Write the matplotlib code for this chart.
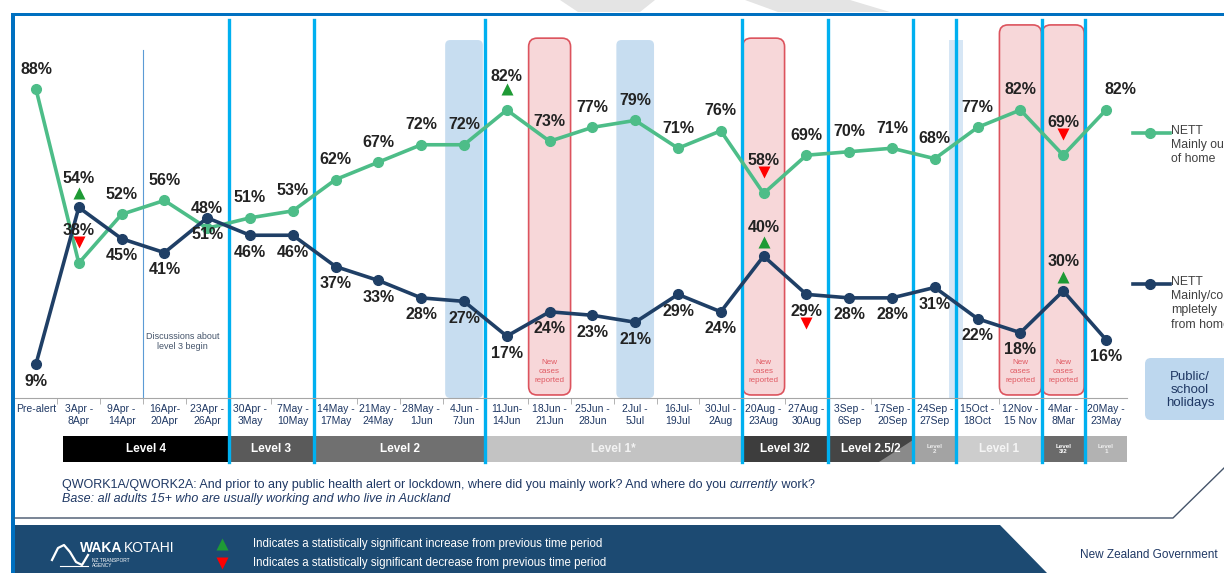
import matplotlib
matplotlib.use("Agg")
import matplotlib.pyplot as plt
import matplotlib.transforms as mtransforms
from matplotlib.lines import Line2D
from matplotlib.patches import FancyBboxPatch, Polygon, Rectangle

plt.rcParams['font.family'] = ['Liberation Sans', 'DejaVu Sans']

# survey waves
periods = ["Pre-alert", "3Apr -\n8Apr", "9Apr -\n14Apr", "16Apr-\n20Apr", "23Apr -\n26Apr",
           "30Apr -\n3May", "7May -\n10May", "14May -\n17May", "21May -\n24May", "28May -\n1Jun",
           "4Jun -\n7Jun", "11Jun-\n14Jun", "18Jun -\n21Jun", "25Jun -\n28Jun", "2Jul -\n5Jul",
           "16Jul-\n19Jul", "30Jul -\n2Aug", "20Aug -\n23Aug", "27Aug -\n30Aug", "3Sep -\n6Sep",
           "17Sep -\n20Sep", "24Sep -\n27Sep", "15Oct -\n18Oct", "12Nov -\n15 Nov", "4Mar -\n8Mar",
           "20May -\n23May"]
out_of_home = [88, 38, 52, 56, 48, 51, 53, 62, 67, 72, 72, 82, 73, 77, 79, 71, 76, 58, 69, 70,
               71, 68, 77, 82, 69, 82]
from_home = [9, 54, 45, 41, 51, 46, 46, 37, 33, 28, 27, 17, 24, 23, 21, 29, 24, 40, 29, 28,
             28, 31, 22, 18, 30, 16]
# 1 = significant increase, -1 = significant decrease
out_of_home_sig = [0, -1, 0, 0, 0, 0, 0, 0, 0, 0, 0, 1, 0, 0, 0, 0, 0, -1, 0, 0, 0, 0, 0, 0, -1, 0]
from_home_sig = [0, 1, 0, 0, 0, 0, 0, 0, 0, 0, 0, 0, 0, 0, 0, 0, 0, 1, -1, 0, 0, 0, 0, 0, 1, 0]

# alert levels (first and last wave of each)
level_names = ["Level 4", "Level 3", "Level 2", "Level 1*", "Level 3/2", "Level 2.5/2",
               "Level\n2", "Level 1", "Level\n3/2", "Level\n1"]
level_first = [1, 5, 7, 11, 17, 19, 21, 22, 24, 25]
level_last = [4, 6, 10, 16, 18, 20, 21, 23, 24, 25]
level_colors = ['#000000', '#5a5a5a', '#707070', '#c3c3c3', '#3d3d3d', '#454545',
                '#a3a3a3', '#cdcdcd', '#6a6a6a', '#b2b2b2']

holiday_waves = [10, 14]
holiday_between = [(21, 22)]
new_case_waves = [12, 17, 23, 24]

W, H = 1224, 573
fig = plt.figure(figsize=(W / 100, H / 100), dpi=100)
px = mtransforms.Affine2D().scale(1, -1).translate(0, H)   # top-left pixel coords

ax = fig.add_axes([14.6 / W, (H - 398) / H, (1127.4 - 14.6) / W, 378 / H])
x = list(range(len(periods)))
ax.set_xlim(-0.5, len(periods) - 0.5)
ax.set_ylim(-0.77, 107.85)
xt = ax.get_xaxis_transform()
asp = (ax.bbox.width / len(periods)) / ax.bbox.height

for s in ['top', 'left', 'right']:
    ax.spines[s].set_visible(False)
ax.spines['bottom'].set_color('#a6a6a6')
ax.set_yticks([])
ax.set_xticks(x, periods, fontsize=7.5, color='#1f3864')
for lbl in ax.get_xticklabels():
    lbl.set_linespacing(1.3)
ax.set_xticks([i + 0.5 for i in x[:-1]], minor=True)
ax.tick_params(axis='x', which='major', length=0, pad=4)
ax.tick_params(axis='x', which='minor', length=4, color='#a6a6a6')

# holiday bands
for i in holiday_waves:
    ax.add_patch(FancyBboxPatch((i - 0.44, 0.0), 0.88, 0.947, boxstyle='round,pad=0,rounding_size=0.12',
                                mutation_aspect=asp, transform=xt, fc='#bdd7ee', ec='none', alpha=0.85, zorder=1))
for a, b in holiday_between:
    ax.add_patch(Rectangle(((a + b) / 2 - 0.16, 0.0), 0.32, 0.947, transform=xt,
                           fc='#d6e6f5', ec='none', zorder=1))

# new cases boxes
for k, i in enumerate(new_case_waves):
    top = 0.952 if k < 2 else 0.987
    ax.add_patch(FancyBboxPatch((i - 0.49, 0.008), 0.98, top - 0.008, boxstyle='round,pad=0,rounding_size=0.2',
                                mutation_aspect=asp, transform=xt, fc='#f7d3d5', ec='#d9434e', lw=1.2,
                                alpha=0.9, zorder=1))
    ax.text(i, 0.07, "New\ncases\nreported", transform=xt, ha='center', va='center', fontsize=5.8,
            color='#e05a63', linespacing=1.35, zorder=2)

# alert level bar + level change lines
for name, a, b, c in zip(level_names, level_first, level_last, level_colors):
    left = a - 0.5 if a > 1 else 0.62
    ax.add_patch(Rectangle((left, -0.169), b + 0.5 - left, 0.069, transform=xt, fc=c, ec='none', clip_on=False))
    small = '\n' in name
    ax.text((left + b + 0.5) / 2, -0.1345, name, transform=xt, ha='center', va='center',
            fontsize=4.5 if small else 8.5, fontweight='bold', color='white', linespacing=1.0,
            alpha=0.8 if c > '#a' else 1)
ax.add_patch(Polygon([(19.7, -0.169), (20.5, -0.169), (20.5, -0.11)], closed=True, transform=xt,
                     fc='#8a8a8a', ec='none', clip_on=False))
for b in level_last[:-1]:
    ax.plot([b + 0.5, b + 0.5], [-0.169, 1.0], transform=xt, color='#00b0f0', lw=2.4, clip_on=False, zorder=2)
ax.plot([2.5, 2.5], [0, 0.92], transform=xt, color='#5b9bd5', lw=0.8, zorder=2)
ax.text(3.43, 0.15, "Discussions about\nlevel 3 begin", transform=xt, ha='center', va='center',
        fontsize=6.5, color='#44546a', linespacing=1.2)

# the two series
green, navy = '#4dbd88', '#1f3f66'
ax.plot(x, out_of_home, color=green, lw=2.6, marker='o', ms=7, zorder=3)
ax.plot(x, from_home, color=navy, lw=2.6, marker='o', ms=7, zorder=3)


def mark(i, v, dy, sig):
    tr = mtransforms.offset_copy(ax.transData, fig=fig, y=dy, units='dots')
    ax.plot(i, v, marker='^' if sig > 0 else 'v', ms=8, mec='none',
            color='#1e9a35' if sig > 0 else '#ff0000', transform=tr, zorder=5, clip_on=False)


def label(i, v, dy, dx=0):
    ax.annotate(f"{v}%", (i, v), xytext=(dx * 0.72, dy * 0.72), textcoords='offset points',
                ha='center', va='center', fontsize=11.5, fontweight='bold', color='#222222', zorder=5)


for i, (v, s) in enumerate(zip(out_of_home, out_of_home_sig)):
    dx = 14 if i == len(x) - 1 else 0
    if s:
        label(i, v, 33, dx)
        mark(i, v, 21, s)
    else:
        label(i, v, 20, dx)

for i, (v, s) in enumerate(zip(from_home, from_home_sig)):
    if s > 0:
        label(i, v, 29)
        mark(i, v, 14, s)
    elif s < 0:
        label(i, v, -17)
        mark(i, v, -29, s)
    else:
        label(i, v, -17)

# legend on the right
for y, c, txt in [(133, green, "NETT\nMainly out\nof home"), (284, navy, "NETT\nMainly/co\nmpletely\nfrom home")]:
    fig.add_artist(Line2D([1133, 1170], [y, y], color=c, lw=2.6, transform=px))
    fig.add_artist(Line2D([1150], [y], color=c, marker='o', ms=7, transform=px))
    fig.text(1171, y - 8, txt, transform=px, fontsize=8.8, color='#404040', va='top', linespacing=1.25)

fig.add_artist(FancyBboxPatch((1145, 358), 100, 62, boxstyle='round,pad=0,rounding_size=6',
                              transform=px, fc='#bdd7ee', ec='none'))
fig.text(1190, 390, "Public/\nschool\nholidays", transform=px, ha='center', va='center',
         fontsize=9.5, color='#1f3864', linespacing=1.1)

# slide frame
fig.add_artist(Rectangle((11, 12.5), W - 11, 3.5, transform=px, fc='#0070c0', ec='none'))
fig.add_artist(Rectangle((11, 12.5), 4, H - 12.5, transform=px, fc='#0070c0', ec='none'))
fig.add_artist(Polygon([(560, 0), (655, 0), (640, 12), (578, 12)], transform=px, fc='#e4e4e4', ec='none'))
fig.add_artist(Polygon([(745, 0), (850, 0), (890, 12), (778, 12)], transform=px, fc='#e4e4e4', ec='none'))

# question text
renderer = fig.canvas.get_renderer()
tx = 62
for part, style in [("QWORK1A/QWORK2A: And prior to any public health alert or lockdown, where did you mainly work? And where do you ", 'normal'),
                    ("currently", 'italic'), (" work?", 'normal')]:
    t = fig.text(tx, 485, part, transform=px, fontsize=9, color='#1f3864', va='center', style=style)
    tx += t.get_window_extent(renderer).width
fig.text(62, 499, "Base: all adults 15+ who are usually working and who live in Auckland", transform=px,
         fontsize=9, color='#1f3864', va='center', style='italic')

# footer
fig.add_artist(Line2D([15, 1173, 1224], [518, 518, 468], color='#44546a', lw=1, transform=px))
fig.add_artist(Polygon([(15, 525), (1000, 525), (1047, H), (15, H)], transform=px, fc='#1c4a72', ec='none'))
fig.add_artist(Line2D([52, 58, 64, 70, 76, 82, 88], [560, 548, 545, 552, 562, 565, 555],
                      color='white', lw=1.6, transform=px))
fig.add_artist(Line2D([60, 88], [566, 566], color='white', lw=0.8, transform=px))
fig.text(80, 548, "WAKA", transform=px, fontsize=10, fontweight='bold', color='white', va='center')
fig.text(124, 548, "KOTAHI", transform=px, fontsize=10, color='white', va='center')
fig.text(92, 563, "NZ TRANSPORT\nAGENCY", transform=px, fontsize=3.5, color='white', va='center')
fig.add_artist(Line2D([222], [544], marker='^', ms=9, color='#1e9a35', mec='none', transform=px))
fig.add_artist(Line2D([222], [563], marker='v', ms=9, color='#ff0000', mec='none', transform=px))
fig.text(253, 544, "Indicates a statistically significant increase from previous time period", transform=px,
         fontsize=8.3, color='white', va='center')
fig.text(253, 563, "Indicates a statistically significant decrease from previous time period", transform=px,
         fontsize=8.3, color='white', va='center')
fig.text(1080, 555, "New Zealand Government", transform=px, fontsize=8.5, color='#1f3864', va='center')

fig.savefig("out.png", dpi=100)
